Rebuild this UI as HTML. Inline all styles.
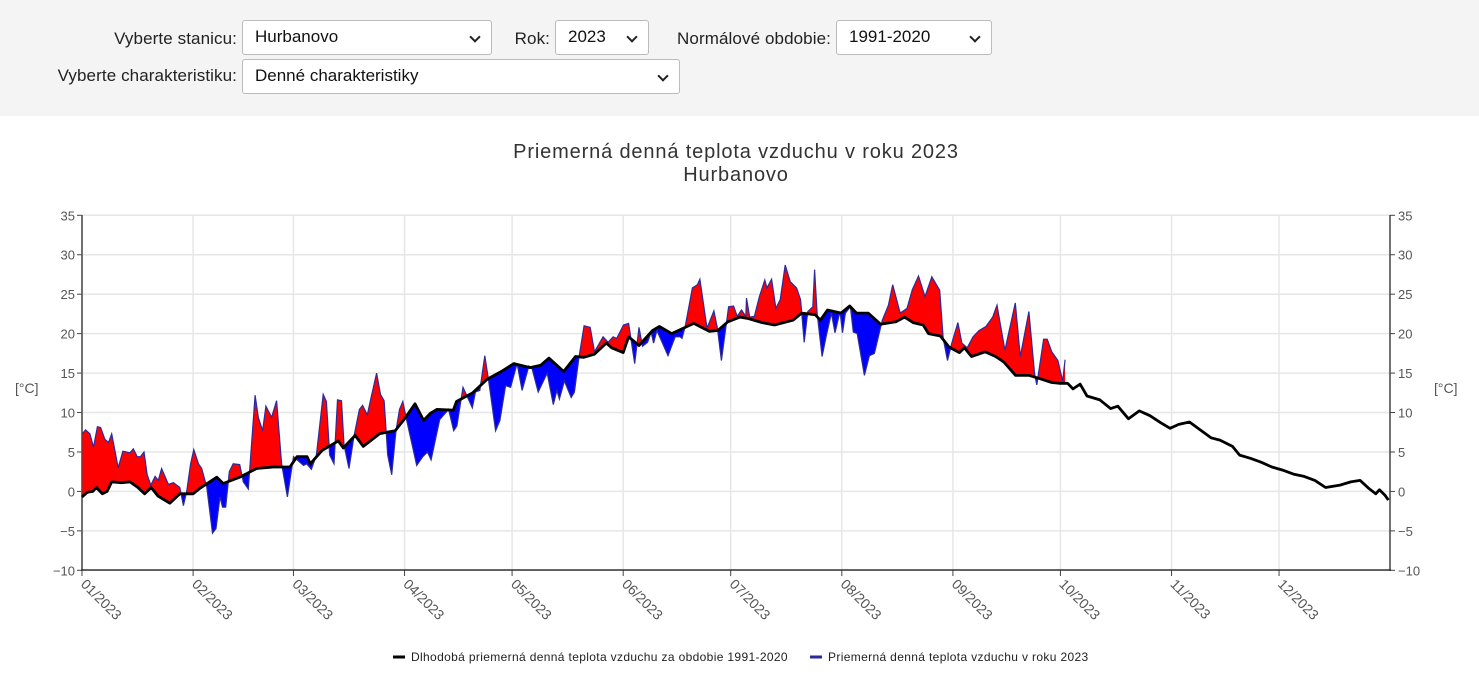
<!DOCTYPE html>
<html><head><meta charset="utf-8"><style>
body{margin:0;width:1479px;height:687px;background:#fff;font-family:"Liberation Sans",Arial,sans-serif;overflow:hidden;position:relative}
.hdr{position:absolute;left:0;top:0;width:1479px;height:116px;background:#f3f4f3}
.lbl{position:absolute;font-size:17px;color:#222;line-height:20px;text-align:right;white-space:nowrap;letter-spacing:0.1px}
.sel{position:absolute;background:#fff;border:1px solid #bbb;border-radius:3px;box-sizing:border-box;font-size:17px;color:#111;padding:6px 12px;line-height:20px}
.sel:after{content:"";position:absolute;right:12px;top:12px;width:6px;height:6px;border-right:2px solid #222;border-bottom:2px solid #222;transform:rotate(45deg)}
svg text{font-family:"Liberation Sans",Arial,sans-serif}
</style></head><body>
<div class="hdr">
<div class="lbl" style="right:1242px;top:29px">Vyberte stanicu:</div>
<div class="sel" style="left:242px;top:20px;width:250px;height:35px">Hurbanovo</div>
<div class="lbl" style="right:929px;top:29px">Rok:</div>
<div class="sel" style="left:555px;top:20px;width:94px;height:35px">2023</div>
<div class="lbl" style="right:648px;top:29px">Normálové obdobie:</div>
<div class="sel" style="left:836px;top:20px;width:156px;height:35px">1991-2020</div>
<div class="lbl" style="right:1242px;top:66px">Vyberte charakteristiku:</div>
<div class="sel" style="left:242px;top:59px;width:438px;height:35px">Denné charakteristiky</div>
</div>
<svg id="s" width="1479" height="687" style="position:absolute;left:0;top:0">
<text x="736" y="158" text-anchor="middle" font-size="20" fill="#333" letter-spacing="0.85">Priemerná denná teplota vzduchu v roku 2023</text>
<text x="736" y="181" text-anchor="middle" font-size="20" fill="#333" letter-spacing="0.85">Hurbanovo</text>
<g id="grid"></g>
<g id="data"></g>
<text x="15" y="393" font-size="14" fill="#555">[°C]</text>
<text x="1434" y="393" font-size="14" fill="#555">[°C]</text>
<line x1="393" y1="657" x2="405" y2="657" stroke="#000" stroke-width="3"/>
<text x="411" y="661" font-size="12" letter-spacing="0.35" fill="#222">Dlhodobá priemerná denná teplota vzduchu za obdobie 1991-2020</text>
<line x1="810" y1="657" x2="822" y2="657" stroke="#2a2a9a" stroke-width="3"/>
<text x="828" y="661" font-size="12" letter-spacing="0.35" fill="#222">Priemerná denná teplota vzduchu v roku 2023</text>
</svg>
<script>
var X0=82,PX=3.584;function X(d){return X0+d*PX}function Y(v){return 215.3+(35-v)*7.889}
var N=[[0,-0.7],[1.5,-0.1],[3,0],[4,0.5],[5.7,-0.3],[7,0],[8.3,1.2],[11,1.1],[13.4,1.2],[15.6,0.5],[17.5,-0.3],[19.3,0.5],[21.2,-0.6],[24.5,-1.5],[27.3,-0.3],[31,-0.3],[32.9,0.4],[37.6,1.8],[39.4,1],[44,1.8],[48.7,2.9],[53.4,3.1],[58,3.1],[60,4.4],[62.8,4.4],[63.7,3.5],[67,5.2],[71.5,6.4],[72.9,5.5],[76.2,7.1],[78.5,5.7],[83,7.3],[85,7.5],[87.4,7.7],[90,9.2],[92.9,11.1],[95.3,9.0],[97.2,9.9],[99,10.4],[103.6,10.3],[104.5,11.4],[109,12.5],[113,14.2],[117,15.2],[120.5,16.2],[125,15.7],[128,16],[130.3,16.9],[134.4,15.2],[137.7,17.1],[140,17],[143,17.4],[146.3,18.8],[147.8,18.2],[151,17.6],[152.5,19.6],[155.4,18.5],[159.2,20.4],[161.1,20.9],[164.5,20.0],[166.4,20.4],[170.7,21.3],[175,20.3],[177.4,20.4],[180.2,21.5],[183.6,22.1],[186,21.9],[189.8,21.4],[193.2,21.1],[198.4,21.7],[200.8,22.6],[204.6,22.4],[206,21.7],[208,23],[211.8,22.6],[214.2,23.5],[216.1,22.6],[219.4,22.6],[222.8,21.2],[227.1,21.5],[229.5,22.1],[231.9,21.4],[234.7,21.1],[236.2,20.0],[239.5,19.7],[241.9,18.3],[244.8,17.6],[246.2,18.2],[248.2,17.1],[252,17.7],[254.9,17.1],[257.2,16.4],[260.5,14.7],[264.3,14.7],[267.2,14.3],[270.6,13.8],[272.9,13.7],[275,13.7],[276.5,13.0],[278.5,13.6],[280.4,12.1],[284,11.6],[287,10.5],[289,10.8],[292,9.2],[295,10.2],[298,9.6],[301,8.7],[303.6,8],[306,8.5],[309,8.8],[312,7.8],[315,6.8],[317.5,6.5],[321,5.7],[323,4.6],[326,4.2],[329,3.7],[332,3.1],[335,2.7],[338,2.2],[341,1.9],[344,1.4],[347,0.5],[351,0.8],[354,1.2],[356.6,1.4],[359,0.4],[361,-0.3],[362,0.2],[363.6,-0.5],[364.5,-1.1]];
var A=[[0.1,7.3],[1,7.8],[2.2,7.3],[3.2,5.6],[4.3,8.2],[5.2,8.1],[6.4,6.6],[7.4,6.2],[8.3,7.3],[10.1,3.0],[11.4,5.1],[13.4,4.9],[14.3,5.4],[15.4,4.4],[16.3,4.4],[17.3,5.0],[18.2,2.1],[19.2,0.8],[20.4,1.9],[21.3,1.4],[22.2,2.9],[24.1,0.9],[25.5,1.1],[27.3,0.5],[28.3,-1.8],[29.2,0],[30.3,3.5],[31.2,5.3],[32.5,3.5],[33.4,2.9],[34.8,0.6],[36.4,-5.3],[37.4,-4.7],[38.5,-0.7],[39.2,-2.0],[40.1,-2],[41.1,2.5],[42.2,3.5],[44,3.4],[45,1.2],[46.4,0.3],[48.3,12.2],[49.2,9.4],[50.4,7.7],[51.3,10.8],[52.9,9.4],[54.3,11.5],[55.7,3.5],[57.3,-0.7],[59,4.4],[61.8,3.3],[62.7,3.5],[64,2.8],[65.4,4.6],[67.3,12.3],[68.2,11.4],[69.1,4.6],[70.3,3.5],[71.3,11.6],[72.4,11.5],[73.1,5.9],[74.5,2.9],[75.9,7.0],[77.4,10.4],[78.3,10.9],[79.6,9.7],[80.6,11.8],[82.2,15.0],[83.3,12.3],[84.3,11.5],[85.3,4.6],[86.4,2.1],[87.6,7.7],[88.6,10.4],[89.5,11.4],[90.6,9.0],[93.4,3.3],[95.1,4.4],[96.4,5.0],[97.4,4.0],[99.8,9.1],[102.3,10.4],[103.7,7.7],[104.6,8.3],[106.3,13.2],[108.2,11.3],[108.9,10.6],[109.8,12.6],[111,12.8],[112.4,17.2],[113.5,13.9],[115.4,7.7],[116.6,9.0],[118.2,13.4],[119.6,13.2],[121.4,16.2],[122.8,12.8],[124.7,15.9],[125.6,15.5],[127.3,12.6],[129.8,15.0],[131.5,11.0],[132.5,12.8],[133.2,11.7],[134.6,14.0],[136.5,11.9],[137.4,12.6],[138.7,17.1],[140.1,21.0],[141.8,20.8],[143,17.7],[145.4,19.6],[146.8,18.9],[148.2,19.6],[149.2,19.4],[151.1,21.1],[152.5,21.3],[154.2,16.2],[155.4,20.8],[156.4,18.4],[157.8,18.9],[158.8,20.2],[159.5,18.8],[160.4,20.4],[163.5,17.2],[165.5,19.6],[166.9,19.6],[167.4,19.4],[168.3,20.9],[170.3,25.8],[171.7,26.2],[172.4,26.9],[174.4,20.7],[176.3,22.9],[177.3,20.7],[178.4,16.6],[180.4,23.4],[181.8,23.5],[182.8,22.2],[184,23.0],[185.2,22.2],[185.4,24.5],[186.3,22.1],[187.6,22.2],[189,24.7],[190.5,26.8],[191.1,25.8],[192.4,26.9],[193.6,23.2],[194.8,24.3],[196.2,28.7],[197.6,26.6],[199.4,25.8],[200.5,24.3],[201.5,18.9],[202.5,22.8],[203.9,23.4],[204.4,28.1],[205.1,22.6],[206.5,17.1],[207.7,19.8],[209.1,22.6],[210.1,20.1],[211.5,22.8],[212.2,20.1],[213,22.6],[214.4,23.4],[215.2,20.2],[216.3,20.0],[218.3,14.7],[219.7,17.2],[221.1,17.5],[222.4,20.0],[223.3,21.7],[225,23.6],[226.2,26.2],[228.3,22.6],[230.2,23.2],[231.7,25.6],[233.4,27.3],[235.2,24.7],[237.1,27.2],[239.3,25.5],[240.3,19.4],[241.5,16.6],[242.7,18.8],[244.4,21.4],[245.5,18.8],[247,18.2],[248.6,19.6],[250.3,20.4],[252.2,20.9],[254.1,22.1],[255.3,23.6],[257.5,17.9],[260.4,23.9],[261.8,17.1],[264.2,22.8],[265.8,14.9],[266.4,13.5],[268.3,19.3],[269.3,19.3],[270.6,17.7],[272.3,16.6],[273.6,14.0],[274.3,16.7]];
function interp(arr,d){for(var i=1;i<arr.length;i++){if(arr[i][0]>=d){var a=arr[i-1],b=arr[i];return a[1]+(b[1]-a[1])*(d-a[0])/(b[0]-a[0]);}}return arr[arr.length-1][1]}
function pts(arr){return arr.map(function(p){return X(p[0]).toFixed(1)+","+Y(p[1]).toFixed(1)}).join(" ")}
var ns="http://www.w3.org/2000/svg";
function el(t,at,par){var e=document.createElementNS(ns,t);for(var k in at)e.setAttribute(k,at[k]);(par||document.getElementById("data")).appendChild(e);return e}
var g=document.getElementById("grid");
for(var v=-10;v<=35;v+=5){var y=Y(v);el("line",{x1:82,x2:1390,y1:y,y2:y,stroke:"#e6e6e6","stroke-width":1.5},g);
el("line",{x1:77,x2:82,y1:y,y2:y,stroke:"#444"},g);el("line",{x1:1390,x2:1395,y1:y,y2:y,stroke:"#444"},g);
var t=el("text",{x:75,y:y+5,"text-anchor":"end","font-size":13,fill:"#555"},g);t.textContent=(v<0?"\u2212"+(-v):v);
var t2=el("text",{x:1398,y:y+5,"font-size":13,fill:"#555"},g);t2.textContent=(v<0?"\u2212"+(-v):v);}
var md=[0,31,59,90,120,151,181,212,243,273,304,334];
md.forEach(function(d,i){var x=X(d);el("line",{x1:x,x2:x,y1:215,y2:570,stroke:"#e6e6e6","stroke-width":1.5},g);
el("line",{x1:x,x2:x,y1:570,y2:576,stroke:"#444"},g);
var t=el("text",{x:0,y:0,"font-size":14,fill:"#555",transform:"translate("+(x-2)+",585) rotate(45)"},g);t.textContent=(i<9?"0":"")+(i+1)+"/2023";});
el("line",{x1:82,x2:82,y1:215,y2:571,stroke:"#444","stroke-width":1.5},g);
el("line",{x1:1390,x2:1390,y1:215,y2:571,stroke:"#444","stroke-width":1.5},g);
el("line",{x1:81,x2:1391,y1:570,y2:570,stroke:"#333","stroke-width":1.5},g);
var defs=el("defs",{},document.getElementById("s"));
var nline=N.map(function(p){return X(p[0]).toFixed(1)+","+Y(p[1]).toFixed(1)}).join(" ");
var c1=el("clipPath",{id:"above"},defs);el("polygon",{points:"82,0 "+nline+" 1391,0"},c1);
var c2=el("clipPath",{id:"below"},defs);el("polygon",{points:"82,687 "+nline+" 1391,687"},c2);
var end=A[A.length-1][0];var sub=N.filter(function(p){return p[0]>A[0][0]&&p[0]<end});
var rev=[[end,interp(N,end)]].concat(sub.slice().reverse()).concat([[A[0][0],interp(N,A[0][0])]]);
var area=pts(A)+" "+pts(rev);
el("polygon",{points:area,fill:"#ff0000","clip-path":"url(#above)"});
el("polygon",{points:area,fill:"#0000ff","clip-path":"url(#below)"});
el("polyline",{points:pts(A),fill:"none",stroke:"#2b2b9c","stroke-width":1.2});
el("polyline",{points:nline,fill:"none",stroke:"#000","stroke-width":2.8,"stroke-linejoin":"round"});
</script>
</body></html>
